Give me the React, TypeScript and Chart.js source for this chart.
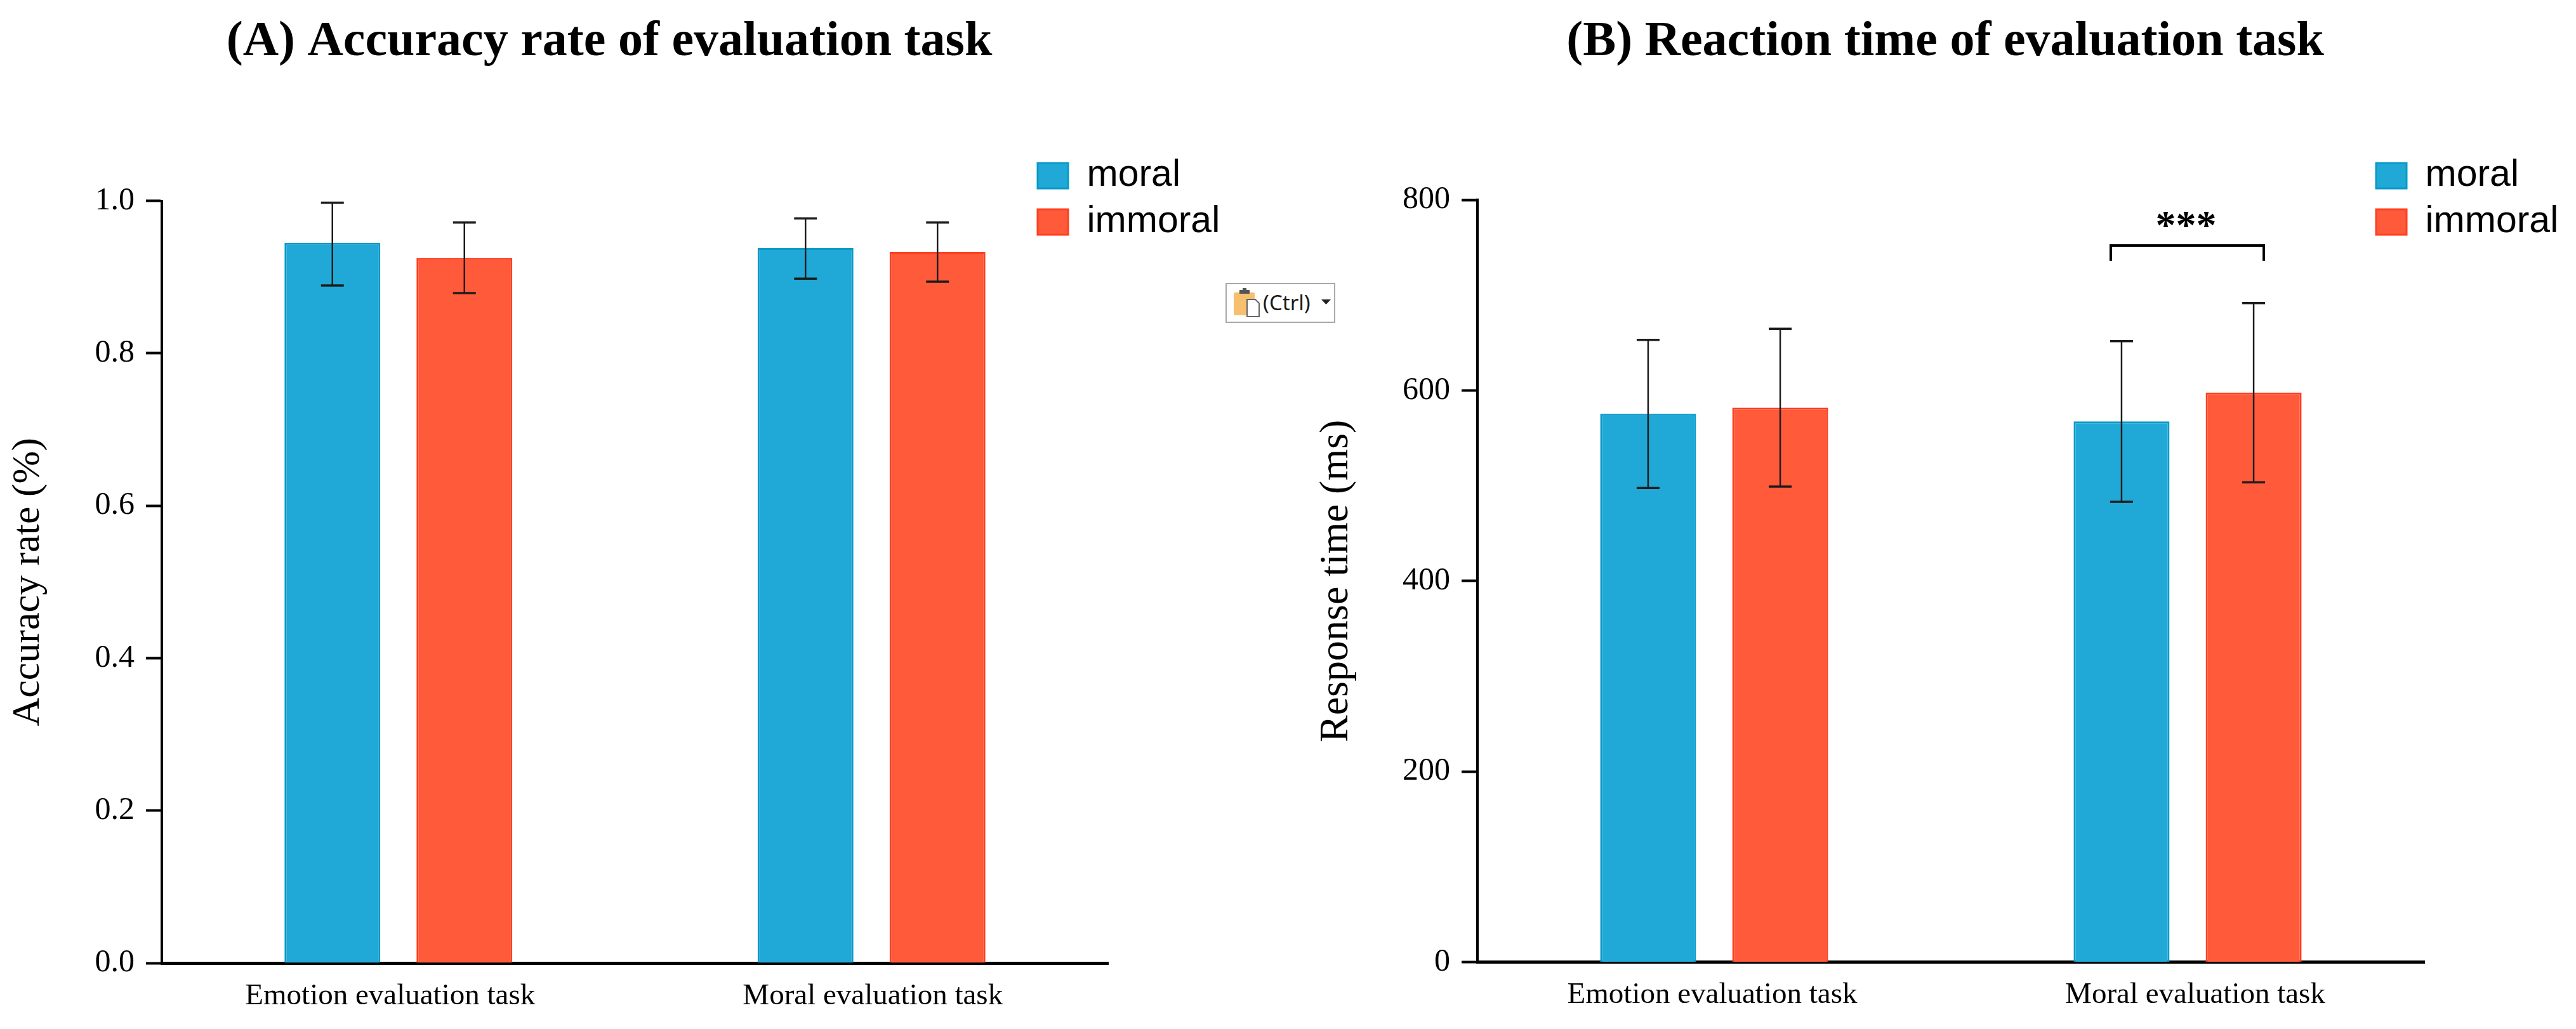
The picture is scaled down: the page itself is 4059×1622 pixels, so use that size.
import React, { useEffect, useRef } from "react";
import { Chart, registerables } from "chart.js";

Chart.register(...registerables);

const categories = ["Emotion evaluation task", "Moral evaluation task"];
const seriesNames = ["moral", "immoral"];

const accuracyMoral = [0.945, 0.938];
const accuracyImmoral = [0.925, 0.933];
const accuracyMoralLow = [0.889, 0.898];
const accuracyMoralHigh = [0.9975, 0.977];
const accuracyImmoralLow = [0.879, 0.894];
const accuracyImmoralHigh = [0.9715, 0.9715];
const accuracyTicks = [0, 0.2, 0.4, 0.6, 0.8, 1.0];

const rtMoral = [575.5, 567.4];
const rtImmoral = [582, 597.7];
const rtMoralLow = [497.5, 483];
const rtMoralHigh = [653, 651.7];
const rtImmoralLow = [499, 503.5];
const rtImmoralHigh = [664.7, 691.7];
const rtTicks = [0, 200, 400, 600, 800];
const rtBracketRange = [736, 752];
const rtBracketLabel = "***";

const BLUE = "#20A9D6";
const BLUE_EDGE = "#0A9ACA";
const RED = "#FF5A3A";
const RED_EDGE = "#FF3F20";
const SERIF = "'Liberation Serif', 'Times New Roman', serif";
const SANS = "'Liberation Sans', Arial, sans-serif";

type PanelSpec = {
  title: string;
  yTitle: string;
  yTitleSize: number;
  yTitlePad: number;
  moral: number[];
  immoral: number[];
  lows: number[][];
  highs: number[][];
  ticks: number[];
  maxY: number;
  decimals: number;
  canvasWidth: number;
  axisLeft: number;
  axisRight: number;
  axisTop: number;
  axisBottom: number;
  titleCenter: number;
  legendLeft: number;
  labelNudge: number[];
  bracket?: boolean;
};

const CANVAS_H = 1622;

function buildChart(canvas: HTMLCanvasElement, s: PanelSpec) {
  const TITLE_LINE = 78 * 1.2;
  const TITLE_TOP = 20;
  const layoutPlugin = {
    id: "placeBlocks",
    afterLayout(chart: any) {
      const t = chart.titleBlock;
      if (t) {
        t.left = s.titleCenter - 1000;
        t.right = s.titleCenter + 1000;
      }
      const l = chart.legend;
      if (l) {
        l.left = s.legendLeft - 14;
        l.right = l.left + 400;
        l.top = 233.5;
        l.bottom = l.top + 220;
      }
    },
    afterUpdate(chart: any) {
      const items = chart.scales.x.getLabelItems();
      items.forEach((it: any, i: number) => {
        it.options.translation[0] += s.labelNudge[i];
      });
    },
  };
  const errorPlugin = {
    id: "errorBars",
    afterDatasetsDraw(chart: any) {
      const ctx = chart.ctx;
      const y = chart.scales.y;
      ctx.save();
      ctx.strokeStyle = "#1c1c1c";
      chart.data.datasets.forEach((_: any, d: number) => {
        chart.getDatasetMeta(d).data.forEach((bar: any, i: number) => {
          const hi = y.getPixelForValue(s.highs[d][i]);
          const lo = y.getPixelForValue(s.lows[d][i]);
          ctx.lineWidth = 2.5;
          ctx.beginPath();
          ctx.moveTo(bar.x, hi);
          ctx.lineTo(bar.x, lo);
          ctx.stroke();
          ctx.lineWidth = 3.5;
          ctx.beginPath();
          ctx.moveTo(bar.x - 18, hi);
          ctx.lineTo(bar.x + 18, hi);
          ctx.moveTo(bar.x - 18, lo);
          ctx.lineTo(bar.x + 18, lo);
          ctx.stroke();
        });
      });
      if (s.bracket) {
        const left = chart.getDatasetMeta(0).data[1].x - 17;
        const right = chart.getDatasetMeta(1).data[1].x + 16;
        const low = y.getPixelForValue(rtBracketRange[0]);
        const high = y.getPixelForValue(rtBracketRange[1]);
        ctx.strokeStyle = "#000";
        ctx.lineWidth = 4;
        ctx.beginPath();
        ctx.moveTo(left, low);
        ctx.lineTo(left, high);
        ctx.lineTo(right, high);
        ctx.lineTo(right, low);
        ctx.stroke();
        ctx.fillStyle = "#000";
        ctx.font = `bold 64px ${SERIF}`;
        ctx.textAlign = "center";
        ctx.textBaseline = "middle";
        ctx.fillText(rtBracketLabel, (left + right) / 2 - 2, high - 28);
      }
      ctx.restore();
    },
  };

  return new Chart(canvas, {
    type: "bar",
    data: {
      labels: categories,
      datasets: [
        {
          label: seriesNames[0],
          data: s.moral,
          backgroundColor: BLUE,
          borderColor: BLUE_EDGE,
          borderWidth: 3,
          categoryPercentage: 0.558,
          barPercentage: 0.726,
        },
        {
          label: seriesNames[1],
          data: s.immoral,
          backgroundColor: RED,
          borderColor: RED_EDGE,
          borderWidth: 3,
          categoryPercentage: 0.558,
          barPercentage: 0.726,
        },
      ],
    },
    plugins: [layoutPlugin, errorPlugin],
    options: {
      responsive: false,
      maintainAspectRatio: false,
      animation: false,
      devicePixelRatio: 1,
      layout: { padding: { left: 0, top: 0, bottom: 0, right: s.canvasWidth - s.axisRight } },
      plugins: {
        tooltip: { enabled: false },
        title: {
          display: true,
          text: s.title,
          color: "#000",
          font: { family: SERIF, size: 78, weight: "bold", lineHeight: 1.2 },
          padding: { top: TITLE_TOP, bottom: s.axisTop - TITLE_TOP - TITLE_LINE },
        },
        legend: {
          display: true,
          position: "chartArea",
          align: "start",
          labels: {
            boxWidth: 48,
            boxHeight: 40,
            padding: 14,
            color: "#000",
            font: { family: SANS, size: 59 },
          },
        },
      },
      scales: {
        x: {
          type: "category",
          offset: true,
          afterFit(scale: any) {
            scale.height = CANVAS_H - s.axisBottom;
          },
          grid: { display: true, drawOnChartArea: false, drawTicks: false },
          border: { display: true, color: "#000", width: 5 },
          ticks: {
            color: "#000",
            font: { family: SERIF, size: 47 },
            padding: 24,
            autoSkip: false,
            maxRotation: 0,
            minRotation: 0,
          },
        },
        y: {
          type: "linear",
          min: 0,
          max: s.maxY,
          afterFit(scale: any) {
            scale.width = s.axisLeft;
          },
          afterBuildTicks(scale: any) {
            scale.ticks = s.ticks.map((v) => ({ value: v }));
          },
          grid: {
            display: true,
            drawOnChartArea: false,
            drawTicks: true,
            tickLength: 25,
            tickWidth: 4,
            tickColor: "#000",
          },
          border: { display: true, color: "#000", width: 4 },
          ticks: {
            color: "#000",
            font: { family: SERIF, size: 50 },
            padding: 18,
            callback: (v: any) => Number(v).toFixed(s.decimals),
          },
          title: {
            display: true,
            text: s.yTitle,
            color: "#000",
            font: { family: SERIF, size: s.yTitleSize },
            padding: { top: s.yTitlePad, bottom: 0 },
          },
        },
      },
    } as any,
  });
}

const panelA: PanelSpec = {
  title: "(A) Accuracy rate of evaluation task",
  yTitle: "Accuracy rate (%)",
  yTitleSize: 62,
  yTitlePad: 8,
  moral: accuracyMoral,
  immoral: accuracyImmoral,
  lows: [accuracyMoralLow, accuracyImmoralLow],
  highs: [accuracyMoralHigh, accuracyImmoralHigh],
  ticks: accuracyTicks,
  maxY: 1,
  decimals: 1,
  canvasWidth: 2000,
  axisLeft: 255,
  axisRight: 1746,
  axisTop: 316.6,
  axisBottom: 1518,
  titleCenter: 960,
  legendLeft: 1635,
  labelNudge: [-13, 2],
};

const panelB: PanelSpec = {
  title: "(B) Reaction time of evaluation task",
  yTitle: "Response time (ms)",
  yTitleSize: 64,
  yTitlePad: 68,
  moral: rtMoral,
  immoral: rtImmoral,
  lows: [rtMoralLow, rtImmoralLow],
  highs: [rtMoralHigh, rtImmoralHigh],
  ticks: rtTicks,
  maxY: 800,
  decimals: 0,
  canvasWidth: 2059,
  axisLeft: 328,
  axisRight: 1820,
  axisTop: 315,
  axisBottom: 1516.5,
  titleCenter: 1065,
  legendLeft: 1744,
  labelNudge: [-3, 12],
  bracket: true,
};

function PasteWidget() {
  return (
    <div
      style={{
        position: "absolute",
        left: 1931,
        top: 446,
        width: 173,
        height: 63,
        boxSizing: "border-box",
        border: "2.5px solid #a9a9a9",
        background: "#fff",
      }}
    >
      <svg width="168" height="58" style={{ position: "absolute", left: 0, top: 0 }}>
        <rect x="11" y="13" width="33" height="36" rx="2" fill="#F6C06E" />
        <rect x="20" y="9" width="16" height="6" fill="#555" />
        <rect x="25" y="6" width="6" height="4" fill="#555" />
        <path d="M32 24 h13 l6 6 v21 h-19 z" fill="#fff" stroke="#666" strokeWidth="2" />
        <path d="M149 24 h15 l-7.5 8 z" fill="#222" />
      </svg>
      <span
        style={{
          position: "absolute",
          left: 57,
          top: 7,
          font: "33px 'Noto Sans', sans-serif",
          lineHeight: "44px",
          color: "#1a1a1a",
        }}
      >
        (Ctrl)
      </span>
    </div>
  );
}

export default function App() {
  const aRef = useRef<HTMLCanvasElement | null>(null);
  const bRef = useRef<HTMLCanvasElement | null>(null);
  useEffect(() => {
    const a = buildChart(aRef.current!, panelA);
    const b = buildChart(bRef.current!, panelB);
    return () => {
      a.destroy();
      b.destroy();
    };
  }, []);
  return (
    <div
      style={{
        position: "absolute",
        left: 0,
        top: 0,
        width: 4059,
        height: 1622,
        overflow: "hidden",
        background: "#fff",
      }}
    >
      <canvas
        ref={aRef}
        width={2000}
        height={CANVAS_H}
        style={{ position: "absolute", left: 0, top: 0, width: 2000, height: CANVAS_H }}
      />
      <canvas
        ref={bRef}
        width={2059}
        height={CANVAS_H}
        style={{ position: "absolute", left: 2000, top: 0, width: 2059, height: CANVAS_H }}
      />
      <PasteWidget />
    </div>
  );
}
